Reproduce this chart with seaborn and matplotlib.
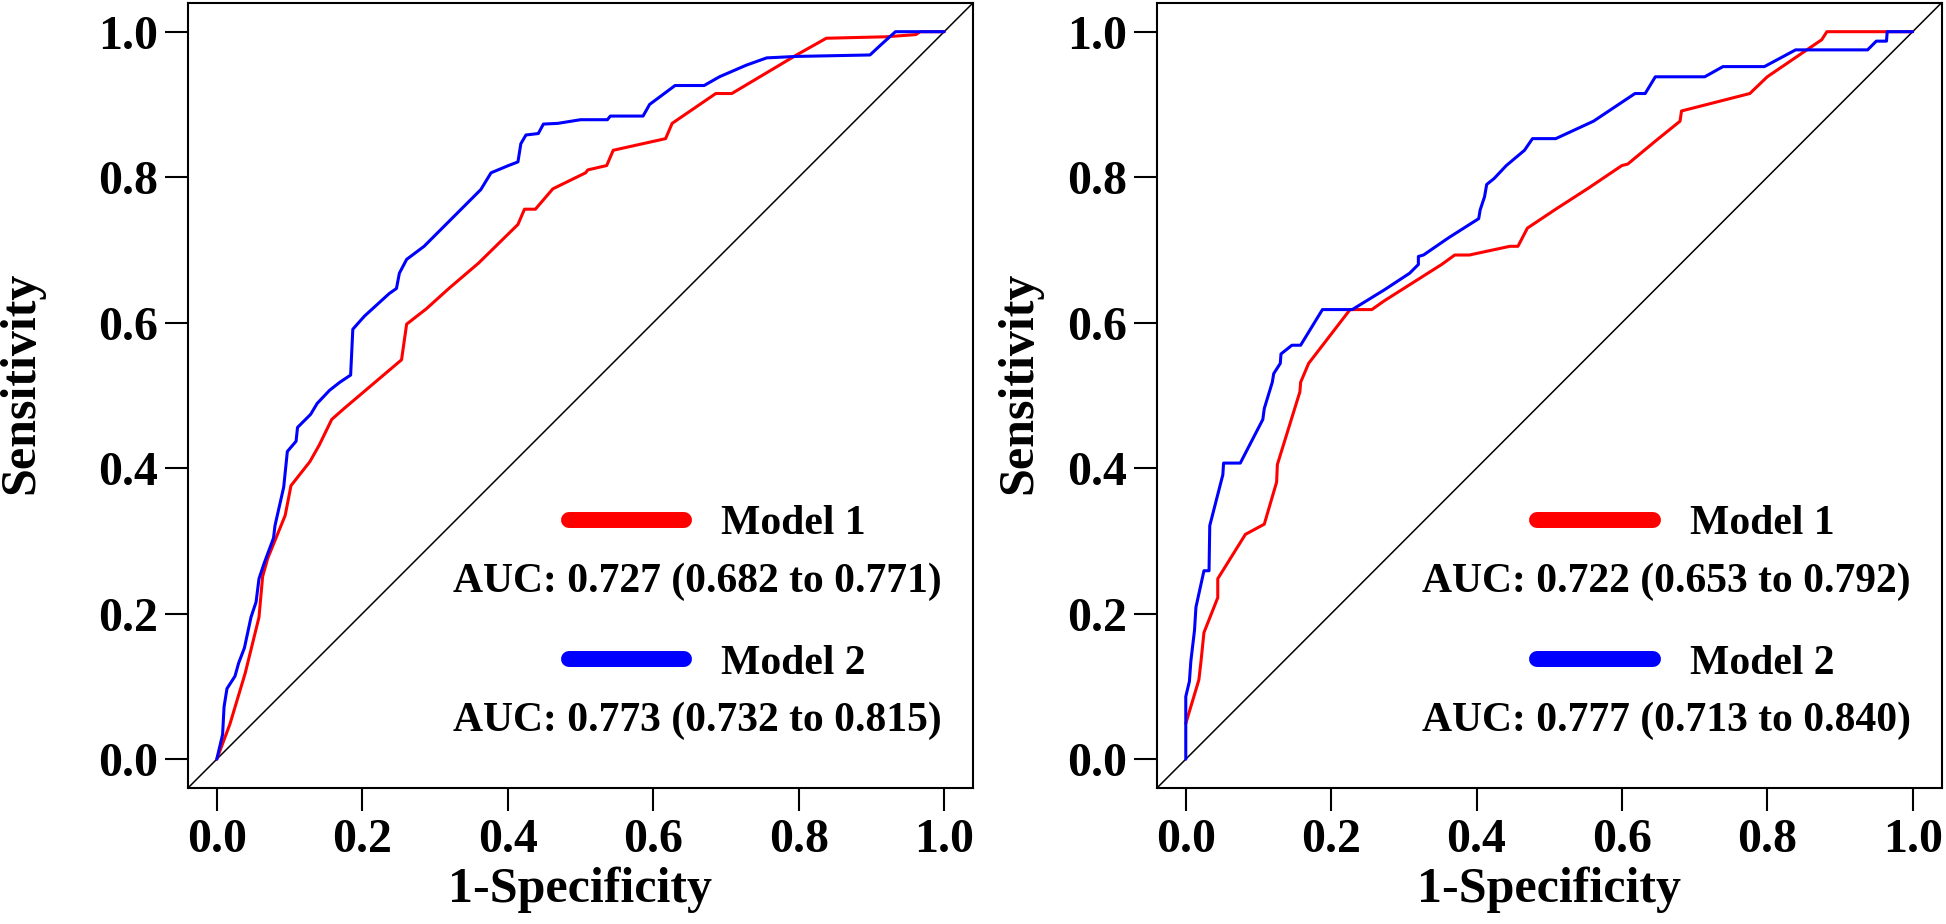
import matplotlib
matplotlib.use("Agg")
import matplotlib.pyplot as plt
import seaborn as sns
import pandas as pd

# ROC curve points: x = 1-specificity, y = sensitivity
left_m1_fpr = [0.0, 0.018, 0.039, 0.058, 0.063, 0.070, 0.094, 0.102, 0.128, 0.141, 0.158, 0.175,
               0.254, 0.261, 0.288, 0.319, 0.360, 0.414, 0.423, 0.438, 0.462, 0.507, 0.510, 0.536,
               0.545, 0.617, 0.626, 0.686, 0.708, 0.797, 0.838, 0.920, 0.961, 0.967, 1.0]
left_m1_tpr = [0.0, 0.048, 0.118, 0.195, 0.251, 0.276, 0.335, 0.376, 0.409, 0.432, 0.467, 0.482,
               0.549, 0.598, 0.619, 0.647, 0.682, 0.735, 0.756, 0.756, 0.784, 0.806, 0.810, 0.816,
               0.837, 0.853, 0.874, 0.915, 0.915, 0.968, 0.991, 0.993, 0.996, 1.0, 1.0]

left_m2_fpr = [0.0, 0.008, 0.010, 0.014, 0.025, 0.030, 0.038, 0.047, 0.054, 0.058, 0.065, 0.078,
               0.080, 0.092, 0.097, 0.109, 0.111, 0.129, 0.138, 0.155, 0.169, 0.184, 0.187, 0.203,
               0.237, 0.247, 0.251, 0.261, 0.285, 0.363, 0.377, 0.401, 0.414, 0.418, 0.425, 0.442,
               0.449, 0.469, 0.500, 0.537, 0.541, 0.586, 0.595, 0.630, 0.670, 0.691, 0.728, 0.756,
               0.797, 0.898, 0.913, 0.933, 1.0]
left_m2_tpr = [0.0, 0.034, 0.072, 0.097, 0.114, 0.132, 0.153, 0.195, 0.216, 0.248, 0.269, 0.304,
               0.321, 0.374, 0.423, 0.437, 0.456, 0.474, 0.489, 0.507, 0.518, 0.528, 0.591, 0.609,
               0.640, 0.647, 0.668, 0.687, 0.705, 0.783, 0.806, 0.816, 0.821, 0.846, 0.858, 0.860,
               0.873, 0.874, 0.879, 0.879, 0.884, 0.884, 0.900, 0.926, 0.926, 0.938, 0.954, 0.964,
               0.966, 0.968, 0.982, 1.0, 1.0]

right_m1_fpr = [0.0, 0.018, 0.021, 0.025, 0.044, 0.044, 0.082, 0.108, 0.125, 0.126, 0.157, 0.158,
                0.169, 0.226, 0.256, 0.273, 0.352, 0.370, 0.390, 0.446, 0.457, 0.470, 0.509, 0.554,
                0.600, 0.608, 0.649, 0.680, 0.682, 0.776, 0.800, 0.875, 0.882, 1.0]
right_m1_tpr = [0.049, 0.109, 0.135, 0.174, 0.222, 0.248, 0.309, 0.323, 0.381, 0.405, 0.505, 0.518,
                0.544, 0.618, 0.618, 0.630, 0.680, 0.693, 0.693, 0.705, 0.705, 0.730, 0.756, 0.785,
                0.816, 0.818, 0.852, 0.877, 0.891, 0.915, 0.938, 0.989, 1.0, 1.0]

right_m2_fpr = [0.0, 0.0, 0.005, 0.007, 0.012, 0.014, 0.025, 0.032, 0.033, 0.051, 0.052, 0.075,
                0.106, 0.108, 0.119, 0.121, 0.130, 0.131, 0.146, 0.158, 0.188, 0.229, 0.273, 0.308,
                0.320, 0.320, 0.327, 0.362, 0.403, 0.405, 0.411, 0.414, 0.424, 0.441, 0.466, 0.477,
                0.509, 0.561, 0.618, 0.632, 0.646, 0.714, 0.739, 0.796, 0.839, 0.938, 0.950, 0.964,
                0.965, 1.0]
right_m2_tpr = [0.0, 0.086, 0.107, 0.135, 0.177, 0.209, 0.259, 0.259, 0.321, 0.391, 0.407, 0.407,
                0.467, 0.482, 0.518, 0.530, 0.544, 0.557, 0.569, 0.569, 0.618, 0.618, 0.645, 0.668,
                0.680, 0.691, 0.693, 0.717, 0.743, 0.755, 0.773, 0.790, 0.798, 0.816, 0.837, 0.853,
                0.853, 0.877, 0.915, 0.915, 0.938, 0.938, 0.952, 0.952, 0.975, 0.975, 0.987, 0.987,
                1.0, 1.0]

models = ["Model 1", "Model 2"]
colors = ["#FF0000", "#0000FF"]
left_auc = ["AUC: 0.727 (0.682 to 0.771)", "AUC: 0.773 (0.732 to 0.815)"]
right_auc = ["AUC: 0.722 (0.653 to 0.792)", "AUC: 0.777 (0.713 to 0.840)"]
ticks = [0.0, 0.2, 0.4, 0.6, 0.8, 1.0]
tick_labels = ["0.0", "0.2", "0.4", "0.6", "0.8", "1.0"]


def make_df(fpr1, tpr1, fpr2, tpr2):
    d1 = pd.DataFrame({"fpr": fpr1, "tpr": tpr1, "model": models[0]})
    d2 = pd.DataFrame({"fpr": fpr2, "tpr": tpr2, "model": models[1]})
    return pd.concat([d1, d2], ignore_index=True)


sns.set_theme(style="white")
plt.rcParams["font.family"] = ["Liberation Serif", "DejaVu Serif"]
plt.rcParams["font.weight"] = "bold"
plt.rcParams["text.color"] = "black"
plt.rcParams["axes.labelcolor"] = "black"
plt.rcParams["xtick.color"] = "black"
plt.rcParams["ytick.color"] = "black"

fig = plt.figure(figsize=(19.46, 9.24), dpi=100)
ax_left = fig.add_axes([0.09645, 0.1469, 0.4037, 0.8503])
ax_right = fig.add_axes([0.5944, 0.1469, 0.4034, 0.8503])

panels = [
    (ax_left, make_df(left_m1_fpr, left_m1_tpr, left_m2_fpr, left_m2_tpr), left_auc, -0.182),
    (ax_right, make_df(right_m1_fpr, right_m1_tpr, right_m2_fpr, right_m2_tpr), right_auc, -0.146),
]

for ax, df, aucs, ylab_x in panels:
    ax.axline((0, 0), slope=1, color="black", lw=1.1, zorder=1)
    sns.lineplot(data=df, x="fpr", y="tpr", hue="model", palette=colors, sort=False,
                 estimator=None, units="model", lw=2.2, legend=False, ax=ax, zorder=2)
    ax.set_xlim(-0.04, 1.04)
    ax.set_ylim(-0.04, 1.04)
    ax.set_xticks(ticks)
    ax.set_xticklabels(tick_labels)
    ax.set_yticks(ticks)
    ax.set_yticklabels(tick_labels)
    ax.tick_params(axis="both", direction="out", length=16.5, width=1.5, color="black",
                   labelcolor="black", labelsize=34.5, pad=5, bottom=True, left=True)
    for lab in ax.get_xticklabels() + ax.get_yticklabels():
        lab.set_fontweight("bold")
    for sp in ax.spines.values():
        sp.set_visible(True)
        sp.set_color("black")
        sp.set_linewidth(1.5)
    ax.set_xlabel("1-Specificity", fontsize=36, fontweight="bold", color="black")
    ax.set_ylabel("Sensitivity", fontsize=36, fontweight="bold", color="black")
    ax.xaxis.set_label_coords(0.5, -0.10)
    ax.yaxis.set_label_coords(ylab_x, 0.516)
    ax.grid(False)

    # custom legend block
    key_rows = [0.342, 0.164]
    auc_rows = [0.263, 0.086]
    for i in range(2):
        ax.plot([0.485, 0.632], [key_rows[i], key_rows[i]], transform=ax.transAxes,
                color=colors[i], lw=11.5, solid_capstyle="round", zorder=3)
        ax.text(0.679, key_rows[i] - 0.006, models[i], transform=ax.transAxes,
                fontsize=30, fontweight="bold", ha="left", va="center", color="black")
        ax.text(0.649, auc_rows[i], aucs[i], transform=ax.transAxes,
                fontsize=30, fontweight="bold", ha="center", va="center", color="black")

fig.savefig("out.png", dpi=100)
